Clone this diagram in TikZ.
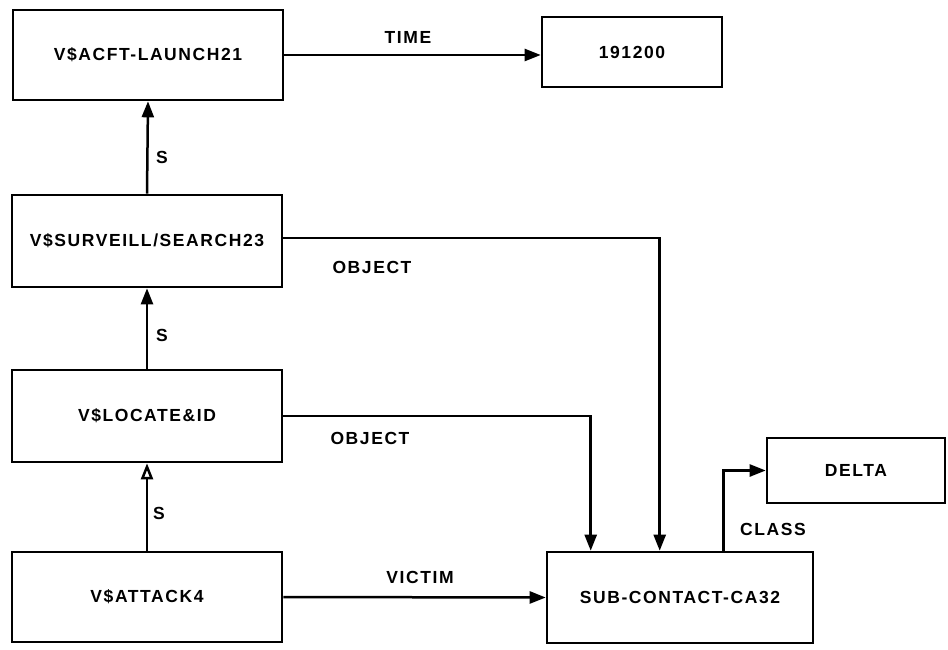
\documentclass[tikz,border=0pt]{standalone}
\usepackage{fontspec}
\setmainfont{Liberation Sans}[LetterSpace=9]
\usetikzlibrary{arrows.meta}
\begin{document}
\begin{tikzpicture}[x=1pt,y=-1pt,
  every node/.style={font=\fontsize{17.5}{20}\selectfont\bfseries},
  box/.style={draw,line width=2.6pt,rectangle,inner sep=0pt},
  conn/.style={line width=2.5pt,-{Triangle[length=16pt,width=12pt]}},
  oconn/.style={line width=2.5pt,-{Triangle[open,length=16pt,width=12pt,line width=2.5pt]}},
  lbl/.style={inner sep=0pt}]
\useasboundingbox (0,0) rectangle (948,650);
\node[box,minimum width=270pt,minimum height=90pt] (A) at (148,55) {V\$ACFT-LAUNCH21};
\node[box,minimum width=270pt,minimum height=92pt] (B) at (147,241) {V\$SURVEILL/SEARCH23};
\node[box,minimum width=270pt,minimum height=92pt] (C) at (147,416) {V\$LOCATE\&ID};
\node[box,minimum width=270pt,minimum height=90pt] (D) at (147,597) {V\$ATTACK4};
\node[box,minimum width=180pt,minimum height=70pt] (T) at (632,52) {191200};
\node[box,minimum width=266pt,minimum height=91pt] (E) at (680,597.5) {SUB-CONTACT-CA32};
\node[box,minimum width=178pt,minimum height=65pt] (F) at (856,470.5) {DELTA};

\draw[conn] (A.east) -- (A.east -| T.west);
\draw[conn] (B.north) -- (A.south);
\draw[conn] (C.north) -- (B.south);
\draw[oconn] (D.north) -- (C.south);
\draw[conn] ([yshift=3pt]B.east) -| ([xshift=114pt]E.north west);
\draw[conn] (C.east) -| ([xshift=45pt]E.north west);
\draw[conn] (D.east) -- (E.west);
\draw[conn] ([xshift=178pt]E.north west) |- (F.west);

\node[lbl] (lt) at (408,37) {TIME};
\node[lbl] (lo1) at (372,267) {OBJECT};
\node[lbl] (lo2) at (370,438) {OBJECT};
\node[lbl] (lv) at (420,577) {VICTIM};
\node[lbl] (lc) at (773,529) {CLASS};
\node[lbl] (s1) at (162,157) {S};
\node[lbl] (s2) at (162,335) {S};
\node[lbl] (s3) at (159,513) {S};
\end{tikzpicture}
\end{document}
